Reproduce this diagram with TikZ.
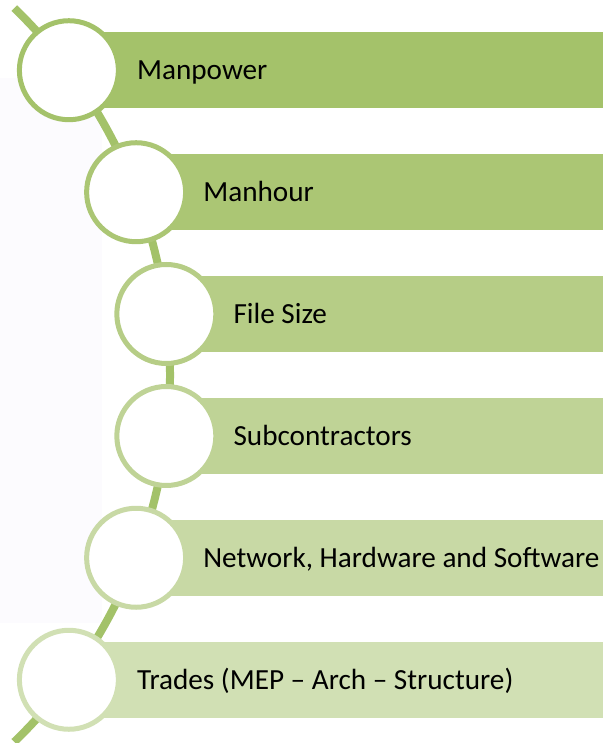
\documentclass[tikz,border=0pt]{standalone}
\usepackage{fontspec}
\setmainfont{Carlito}
\usetikzlibrary{calc}
\definecolor{gA}{HTML}{A4C26A}
\definecolor{gB}{HTML}{ABC674}
\definecolor{gC}{HTML}{B6CD86}
\definecolor{gD}{HTML}{BFD396}
\definecolor{gE}{HTML}{C8D9A5}
\definecolor{gF}{HTML}{D1E0B4}
\definecolor{spinecol}{HTML}{A3C269}
\definecolor{faint}{HTML}{FCFBFE}
\begin{document}
\begin{tikzpicture}[x=1pt,y=1pt,
        bar/.style={fill=#1,minimum height=76pt,inner sep=0pt,anchor=west},
        ring/.style={circle,draw=#1,line width=5pt,fill=white,minimum size=99pt,inner sep=0pt},
        lbl/.style={anchor=base west,inner sep=0pt,font=\fontsize{29.2}{35}\selectfont}]
        \useasboundingbox (0,0) rectangle (603,743);
        \fill[faint] (0,120) rectangle (102,665);
        \coordinate (C) at (-340,368);
        \coordinate (c1) at ($(C)+(36.7:510)$);
        \coordinate (c2) at ($(C)+(21.0:510)$);
        \coordinate (c3) at ($(C)+(6.87:510)$);
        \coordinate (c4) at ($(C)+(-6.87:510)$);
        \coordinate (c5) at ($(C)+(-21.0:510)$);
        \coordinate (c6) at ($(C)+(-36.7:510)$);
        \node[bar=gA,minimum width=603-68.7] (b1) at (c1) {};
        \node[bar=gB,minimum width=603-136] (b2) at (c2) {};
        \node[bar=gC,minimum width=603-166.3] (b3) at (c3) {};
        \node[bar=gD,minimum width=603-166.3] (b4) at (c4) {};
        \node[bar=gE,minimum width=603-136] (b5) at (c5) {};
        \node[bar=gF,minimum width=603-68.7] (b6) at (c6) {};
        \coordinate (top) at ($(C)+(46:510)$);
        \draw[spinecol,line width=8pt](top)arc[start angle=46,end angle=-46,radius=510]coordinate(bottom);
        \node[ring=gA] (r1) at (c1) {};
        \node[ring=gB] (r2) at (c2) {};
        \node[ring=gC] (r3) at (c3) {};
        \node[ring=gD] (r4) at (c4) {};
        \node[ring=gE] (r5) at (c5) {};
        \node[ring=gF] (r6) at (c6) {};
        \node[lbl] (t1) at ($(c1)+(68,-9.5)$) {Manpower};
        \node[lbl] (t2) at ($(c2)+(67,-9.5)$) {Manhour};
        \node[lbl] (t3) at ($(c3)+(67,-9.5)$) {File Size};
        \node[lbl] (t4) at ($(c4)+(67,-9.5)$) {Subcontractors};
        \node[lbl] (t5) at ($(c5)+(67,-9.5)$) {Network, Hardware and Software};
        \node[lbl] (t6) at ($(c6)+(68,-9.5)$) {Trades (MEP – Arch – Structure)};
    \end{tikzpicture}
\end{document}
